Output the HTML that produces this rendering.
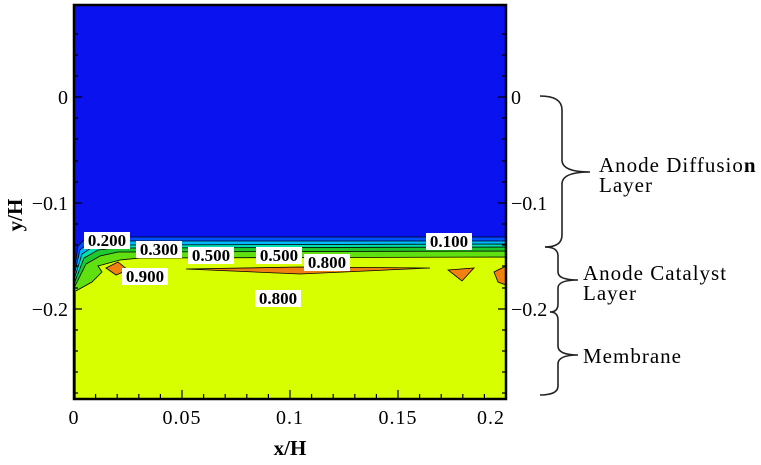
<!DOCTYPE html>
<html><head><style>
body{margin:0;background:#fff}
svg{display:block}
text{font-family:"Liberation Serif",serif}
.lb{font-weight:bold;font-size:17px}
</style></head><body>
<svg width="761" height="465" viewBox="0 0 761 465">
<rect x="74" y="5" width="432" height="394" fill="#0a12ef"/>
<g stroke="#000" stroke-width="0.8">
<path d="M74,272 L78,246 L86,238 L110,237 L506,237 L506,399 L74,399Z" fill="#0050ff"/>
<path d="M74,276 L80,250 L90,242 L112,241 L506,241 L506,399 L74,399Z" fill="#00b8ff"/>
<path d="M74,280 L82,254 L94,246 L114,245 L506,244 L506,399 L74,399Z" fill="#00e0b0"/>
<path d="M74,284 L84,258 L98,250 L116,248 L506,247 L506,399 L74,399Z" fill="#20c830"/>
<path d="M74,288 L86,264 L100,256 L118,252 L506,251 L506,399 L74,399Z" fill="#60e010"/>
<path d="M74,292 L92,282 L102,272 L98,266 L120,260 L140,258 L506,257 L506,399 L74,399Z" fill="#d8ff00"/>
<path d="M106,268 L118,262 L128,270 L116,275Z" fill="#f08010"/>
<path d="M186,269 L300,267 L430,268 L300,274Z" fill="#f08010"/>
<path d="M448,270 L474,268 L462,281Z" fill="#f08010"/>
<path d="M506,266 L494,272 L498,282 L506,285Z" fill="#f08010"/>
</g>
<g class="lb" text-anchor="middle">
<rect x="84" y="232" width="46" height="17" fill="#fff"/><text x="107" y="246">0.200</text>
<rect x="136" y="241" width="46" height="17" fill="#fff"/><text x="159" y="255">0.300</text>
<rect x="188" y="247" width="46" height="17" fill="#fff"/><text x="211" y="261">0.500</text>
<rect x="256" y="247" width="46" height="17" fill="#fff"/><text x="279" y="261">0.500</text>
<rect x="304" y="254" width="46" height="17" fill="#fff"/><text x="327" y="268">0.800</text>
<rect x="426" y="233" width="46" height="17" fill="#fff"/><text x="449" y="247">0.100</text>
<rect x="122" y="268" width="46" height="17" fill="#fff"/><text x="145" y="282">0.900</text>
<rect x="255" y="290" width="46" height="17" fill="#fff"/><text x="278" y="304">0.800</text>
</g>
<line x1="75" y1="290" x2="75" y2="399" stroke="#e03010" stroke-width="2"/>
<rect x="74" y="5" width="432" height="394" fill="none" stroke="#000" stroke-width="2.5"/>
<g stroke="#000" stroke-width="1.2">
<path d="M74,398v-8M182,398v-8M290,398v-8M398,398v-8M506,398v-8"/>
<path d="M95.6,398v-4M117.2,398v-4M138.8,398v-4M160.4,398v-4M203.6,398v-4M225.2,398v-4M246.8,398v-4M268.4,398v-4M311.6,398v-4M333.2,398v-4M354.8,398v-4M376.4,398v-4M419.6,398v-4M441.2,398v-4M462.8,398v-4M484.4,398v-4"/>
<path d="M74,97h8M74,203h8M74,309h8M506,97h-8M506,203h-8M506,309h-8"/>
<path d="M74,34h4M74,55h4M74,76h4M74,118h4M74,139h4M74,161h4M74,182h4M74,224h4M74,245h4M74,266h4M74,288h4M74,330h4M74,351h4M74,372h4M74,393h4"/>
<path d="M506,34h-4M506,55h-4M506,76h-4M506,118h-4M506,139h-4M506,161h-4M506,182h-4M506,224h-4M506,245h-4M506,266h-4M506,288h-4M506,330h-4M506,351h-4M506,372h-4M506,393h-4"/>
</g>
<g font-size="20" text-anchor="end">
<text x="68" y="104">0</text><text x="68" y="210">−0.1</text><text x="68" y="316">−0.2</text>
</g>
<g font-size="20">
<text x="511" y="104">0</text><text x="511" y="210">−0.1</text><text x="511" y="316">−0.2</text>
</g>
<g font-size="20" text-anchor="middle" letter-spacing="1">
<text x="74" y="424">0</text><text x="182" y="424">0.05</text><text x="290" y="424">0.1</text><text x="398" y="424">0.15</text><text x="491" y="424">0.2</text>
</g>
<text x="290" y="455" font-size="21" font-weight="bold" text-anchor="middle">x/H</text>
<text transform="translate(22,215) rotate(-90)" font-size="21" font-weight="bold" text-anchor="middle">y/H</text>
<g fill="none" stroke="#222" stroke-width="1.6">
<path d="M540,96 Q562,96 562,110 L562,160 Q562,172 590,172 Q562,172 562,184 L562,235 Q562,247 545,247"/>
<path d="M545,247 Q558,247 558,256 L558,272 Q558,280 578,280 Q558,280 558,288 L558,304 Q558,312 550,312"/>
<path d="M550,312 Q558,312 558,320 L558,346 Q558,355 578,355 Q558,355 558,364 L558,386 Q558,395 540,395"/>
</g>
<g font-size="21" letter-spacing="1">
<text x="599" y="172">Anode Diffusio<tspan font-weight="bold">n</tspan></text>
<text x="599" y="192">Layer</text>
<text x="583" y="280">Anode Catalyst</text>
<text x="583" y="300">Layer</text>
<text x="583" y="363">Membrane</text>
</g>
</svg>
</body></html>
